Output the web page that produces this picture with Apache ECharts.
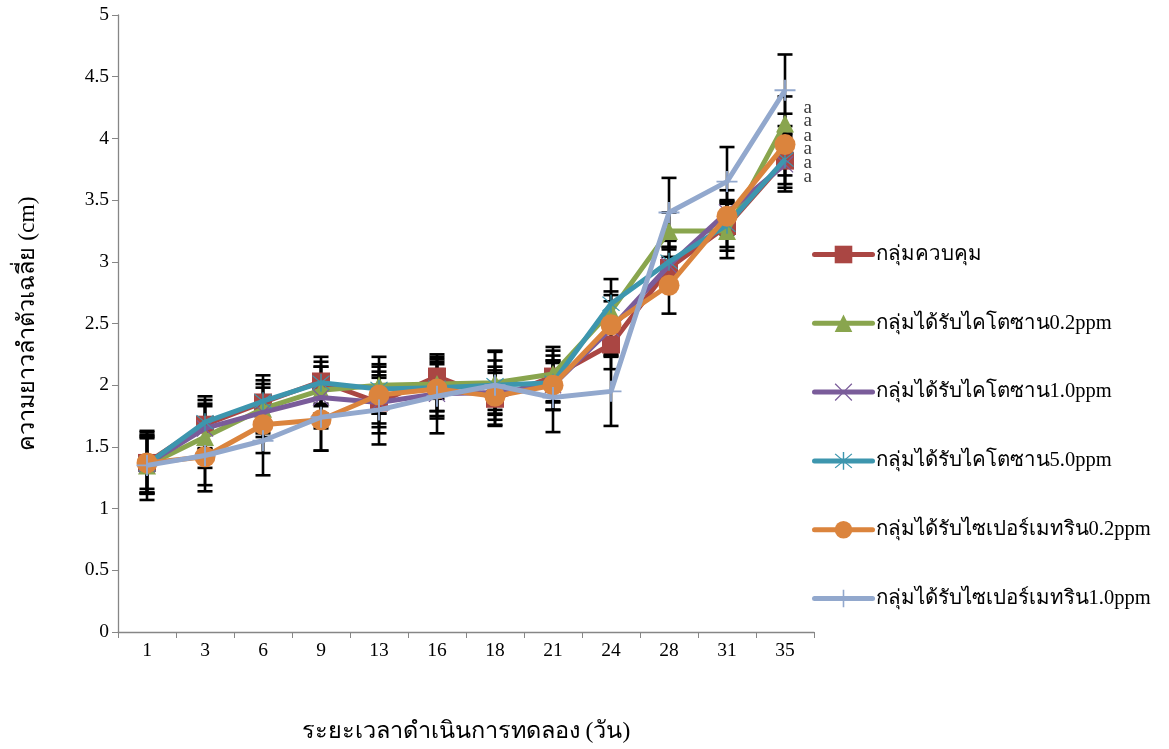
<!DOCTYPE html>
<html>
<head>
<meta charset="utf-8">
<script src="https://cdn.jsdelivr.net/npm/echarts@6/dist/echarts.min.js"></script>
<style>
html,body{margin:0;padding:0;background:#fff;}
#chart{width:1169px;height:749px;}
</style>
</head>
<body>
<div id="chart"></div>
<script>
const days = ['1','3','6','9','13','16','18','21','24','28','31','35'];
const seriesNames = ['กลุ่มควบคุม','กลุ่มได้รับไคโตซาน0.2ppm','กลุ่มได้รับไคโตซาน1.0ppm','กลุ่มได้รับไคโตซาน5.0ppm','กลุ่มได้รับไซเปอร์เมทริน0.2ppm','กลุ่มได้รับไซเปอร์เมทริน1.0ppm'];
const control     = [1.37,1.68,1.86,2.03,1.86,2.07,1.89,2.07,2.33,2.95,3.29,3.82];
const chitosan02  = [1.35,1.58,1.81,1.96,2.00,2.01,2.02,2.09,2.60,3.25,3.25,4.12];
const chitosan10  = [1.36,1.65,1.78,1.90,1.86,1.93,1.94,2.00,2.46,2.97,3.40,3.79];
const chitosan50  = [1.36,1.70,1.87,2.02,1.97,1.98,2.00,2.02,2.66,3.00,3.30,3.83];
const cyper02     = [1.37,1.42,1.68,1.72,1.92,1.97,1.91,2.00,2.49,2.81,3.37,3.95];
const cyper10     = [1.35,1.43,1.55,1.74,1.80,1.91,2.00,1.90,1.95,3.40,3.65,4.39];
const sdControl    = [0.25,0.20,0.18,0.20,0.25,0.18,0.21,0.21,0.20,0.17,0.20,0.22];
const sdChitosan02 = [0.22,0.25,0.20,0.19,0.23,0.22,0.25,0.22,0.16,0.15,0.22,0.22];
const sdChitosan10 = [0.23,0.20,0.20,0.25,0.20,0.20,0.18,0.20,0.22,0.20,0.18,0.22];
const sdChitosan50 = [0.24,0.21,0.21,0.17,0.20,0.19,0.20,0.22,0.20,0.18,0.18,0.20];
const sdCyper02    = [0.21,0.23,0.23,0.25,0.23,0.22,0.24,0.20,0.24,0.23,0.13,0.25];
const sdCyper10    = [0.28,0.29,0.28,0.27,0.28,0.30,0.28,0.28,0.28,0.28,0.28,0.29];
const letterLabels = ['a','a','a','a','a','a'];
const letterValues = [4.25,4.14,4.02,3.91,3.80,3.69];

const values = [control, chitosan02, chitosan10, chitosan50, cyper02, cyper10];
const sds = [sdControl, sdChitosan02, sdChitosan10, sdChitosan50, sdCyper02, sdCyper10];
const colors = ['#AA4643','#89A54E','#7A5C9A','#3D96AE','#DB843D','#92A8CD'];
const xPath = 'path://M1,0 L10,9 L19,0 L20,1 L11,10 L20,19 L19,20 L10,11 L1,20 L0,19 L9,10 L0,1 Z';
const starPath = 'path://M1,0 L10,9 L19,0 L20,1 L11,10 L20,19 L19,20 L10,11 L1,20 L0,19 L9,10 L0,1 Z M9.2,-2 L10.8,-2 L10.8,22 L9.2,22 Z';
const plusPath = 'path://M9.1,0 L10.9,0 L10.9,9.1 L20,9.1 L20,10.9 L10.9,10.9 L10.9,20 L9.1,20 L9.1,10.9 L0,10.9 L0,9.1 L9.1,9.1 Z';
const symbols = ['rect','triangle',xPath,starPath,'circle',plusPath];
const symbolSizes = [18,18,17,18,21,21];

const font = '"Liberation Serif","Times New Roman",serif';
const series = [];
values.forEach((vals, i) => {
  series.push({
    type: 'custom',
    silent: true,
    z: 1,
    renderItem: function (params, api) {
      const top = api.coord([api.value(0), api.value(2)]);
      const bot = api.coord([api.value(0), api.value(1)]);
      const hw = 7.5;
      const st = {stroke: '#000', lineWidth: 2.6};
      return {type: 'group', children: [
        {type: 'line', shape: {x1: top[0], y1: top[1], x2: bot[0], y2: bot[1]}, style: st},
        {type: 'line', shape: {x1: top[0]-hw, y1: top[1], x2: top[0]+hw, y2: top[1]}, style: st},
        {type: 'line', shape: {x1: bot[0]-hw, y1: bot[1], x2: bot[0]+hw, y2: bot[1]}, style: st}
      ]};
    },
    data: vals.map((v, j) => [j, v - sds[i][j], v + sds[i][j]])
  });
});
values.forEach((vals, i) => {
  series.push({
    type: 'line',
    name: seriesNames[i],
    data: vals,
    z: 3 + i,
    symbol: symbols[i],
    symbolSize: symbolSizes[i],
    showAllSymbol: true,
    lineStyle: {width: 5, color: colors[i]},
    itemStyle: {color: colors[i], borderWidth: 0}
  });
});
series.push({
  type: 'scatter',
  silent: true,
  symbolSize: 1,
  itemStyle: {color: 'rgba(0,0,0,0)'},
  z: 20,
  label: {show: true, position: 'right', distance: 18, formatter: p => letterLabels[p.dataIndex], color: '#000', fontFamily: font, fontSize: 19},
  data: letterValues.map(v => ['35', v])
});

const chart = echarts.init(document.getElementById('chart'), null, {renderer: 'canvas'});
chart.setOption({
  animation: false,
  backgroundColor: '#fff',
  color: colors,
  grid: {left: 118, top: 15, right: 355, bottom: 115, containLabel: false},
  legend: {
    orient: 'vertical',
    left: 807,
    top: 239,
    itemWidth: 58,
    itemHeight: 22,
    itemGap: 47.8,
    lineStyle: {width: 5, cap: 'round'},
    textStyle: {fontFamily: font, fontSize: 20.5, color: '#000', padding: [0,0,0,-2]},
    data: seriesNames
  },
  xAxis: {
    type: 'category',
    data: days,
    boundaryGap: true,
    axisLine: {lineStyle: {color: '#868686', width: 1.3}},
    axisTick: {show: true, length: 6, inside: false, lineStyle: {color: '#868686'}},
    axisLabel: {color: '#000', fontFamily: font, fontSize: 19.5, margin: 9},
    name: 'ระยะเวลาดำเนินการทดลอง (วัน)',
    nameLocation: 'middle',
    nameGap: 88,
    nameTextStyle: {color: '#000', fontFamily: font, fontSize: 23.5}
  },
  yAxis: {
    type: 'value',
    min: 0, max: 5, interval: 0.5,
    axisLine: {show: true, lineStyle: {color: '#868686', width: 1.3}},
    axisTick: {show: true, length: 6, lineStyle: {color: '#868686'}},
    splitLine: {show: false},
    axisLabel: {color: '#000', fontFamily: font, fontSize: 19.5, margin: 9},
    name: 'ความยาวลำตัวเฉลี่ย (cm)',
    nameLocation: 'middle',
    nameGap: 78,
    nameTextStyle: {color: '#000', fontFamily: font, fontSize: 23.5}
  },
  series: series
});
</script>
</body>
</html>
